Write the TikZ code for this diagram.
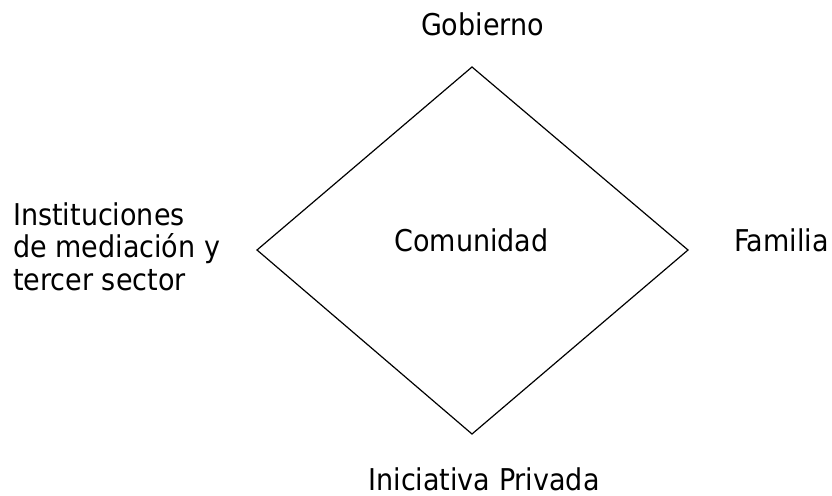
\documentclass[tikz,border=0pt]{standalone}
\usepackage{fontspec}
\setmainfont{DejaVu Sans Condensed}
\begin{document}
\begin{tikzpicture}[x=1pt,y=-1pt,
  lbl/.style={font=\fontsize{30}{32}\selectfont, inner sep=0pt, anchor=base},
  edge/.style={draw=black, line width=1.2pt}]
\useasboundingbox (0,0) rectangle (832,495);
\coordinate (T) at (472,67);
\coordinate (L) at (257,250);
\coordinate (R) at (688,250);
\coordinate (B) at (472,434);
\draw[edge, line join=miter] (T) -- (R) -- (B) -- (L) -- cycle;
\node[lbl] (gob) at (482.5,36) {Gobierno};
\node[lbl] (com) at (471.5,251) {Comunidad};
\node[lbl] (fam) at (781.5,251) {Familia};
\node[lbl, anchor=base west] (inst1) at (13,225) {Instituciones};
\node[lbl, anchor=base west] (inst2) at (13,257.5) {de mediación y};
\node[lbl, anchor=base west] (inst3) at (13,290) {tercer sector};
\node[lbl] (ini) at (484,490) {Iniciativa Privada};
\end{tikzpicture}
\end{document}
